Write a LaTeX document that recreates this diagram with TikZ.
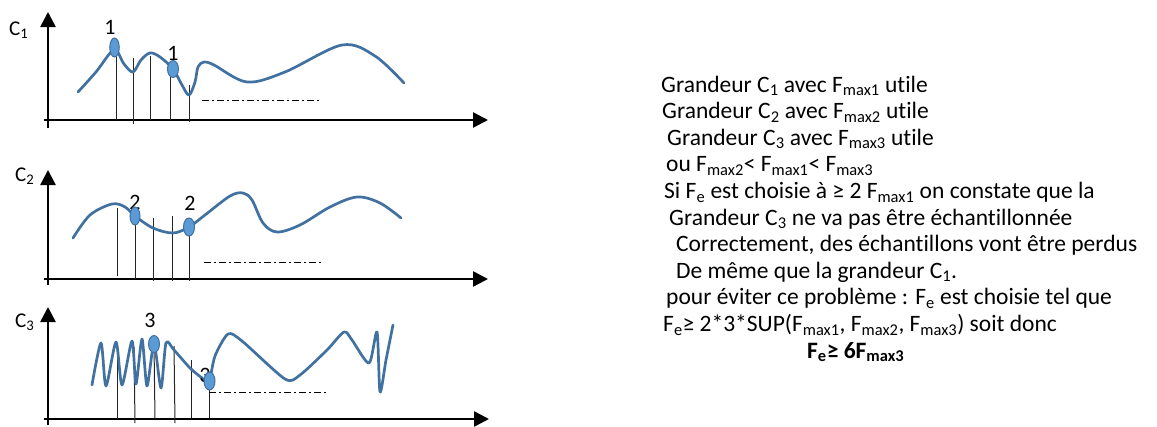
\documentclass[tikz,border=0pt]{standalone}
\usepackage{fontspec}
\setmainfont[Ligatures=NoCommon]{Carlito}
\usetikzlibrary{arrows.meta,shapes.geometric}
\definecolor{curvecol}{RGB}{65,113,160}
\definecolor{dotfill}{RGB}{91,155,213}
\newcommand\sbs[1]{\textsubscript{#1}}
\begin{document}
\begin{tikzpicture}[x=1pt,y=-1pt,
  axis/.style={line width=2.6pt,-{Triangle[length=15pt,width=15pt]}},
  curve/.style={draw=curvecol,line width=2.7pt,line cap=round,line join=round},
  dot/.style={ellipse,draw=curvecol,fill=dotfill,line width=1pt,minimum width=10pt,minimum height=18pt,inner sep=0pt},
  sample/.style={line width=1pt,draw=black!85},
  dashdot/.style={line width=1pt,dash pattern=on 7pt off 3pt on 2pt off 3pt},
  txt/.style={anchor=base west,inner sep=0pt,font=\fontsize{23.5}{28}\selectfont},
  lbl/.style={inner sep=0pt,font=\fontsize{22}{26}\selectfont},
  axlbl/.style={anchor=base west,inner sep=0pt,font=\fontsize{21}{25}\selectfont}]
\useasboundingbox (0,0) rectangle (1157,426);

% ---------- C1 ----------
\coordinate (o1y) at (48,128); \coordinate (t1y) at (48,12);
\coordinate (o1x) at (44,120); \coordinate (t1x) at (488,120);
\draw[axis] (o1y) -- (t1y);
\draw[axis] (o1x) -- (t1x);
\node[axlbl] (c1) at (9,35) {C\sbs{1}};
\draw[sample] (116,48) -- (116,120);
\draw[sample] (133,58) -- (133,124);
\draw[sample] (150,56) -- (150,120);
\draw[sample] (170,69) -- (170,120);
\draw[sample] (189,85) -- (189,122);
\draw[curve] plot[smooth,tension=0.55] coordinates {(78,92) (96,72) (114,50) (124,64) (133,72) (141,60) (150,53) (160,57) (173,69) (182,85) (189,95) (195,82) (198,67) (204,62) (214,65) (247,82) (285,72) (342,45) (375,56) (404,83)};
\draw[dashdot] (202,100) -- (320,100);
\node[lbl] (n1a) at (110,27) {1};
\node[lbl] (n1b) at (173,53) {1};
\node[dot,minimum width=9.5pt,minimum height=19pt] (d1a) at (114.5,47.5) {};
\node[dot,minimum width=11pt,minimum height=17pt] (d1b) at (173,69) {};

% ---------- C2 ----------
\coordinate (o2y) at (48,285); \coordinate (t2y) at (48,170);
\coordinate (o2x) at (44,279); \coordinate (t2x) at (488,279);
\draw[axis] (o2y) -- (t2y);
\draw[axis] (o2x) -- (t2x);
\node[axlbl] (c2) at (15,181) {C\sbs{2}};
\draw[sample] (117,208) -- (117,276);
\draw[sample] (135,216) -- (135,279);
\draw[sample] (153,218) -- (153,281);
\draw[sample] (172,216) -- (172,281);
\draw[sample] (189,227) -- (189,281);
\draw[curve] plot[smooth,tension=0.55] coordinates {(73,238) (90,215) (112,204) (125,207) (135,216) (153,228) (173,233) (189,227) (205,215) (230,196) (243,193) (252,200) (263,223) (277,232) (300,225) (330,207) (357,197) (380,203) (401,218)};
\draw[dashdot] (204,262) -- (322,262);
\node[lbl] (n2a) at (135,202) {2};
\node[lbl] (n2b) at (190,203) {2};
\node[dot] (d2a) at (135,216) {};
\node[dot,minimum width=11pt] (d2b) at (189,227) {};

% ---------- C3 ----------
\coordinate (o3y) at (48,425); \coordinate (t3y) at (48,307);
\coordinate (o3x) at (44,419); \coordinate (t3x) at (489,419);
\draw[axis] (o3y) -- (t3y);
\draw[axis] (o3x) -- (t3x);
\node[axlbl] (c3) at (15,327) {C\sbs{3}};
\draw[sample] (117,343) -- (117,419);
\draw[sample] (134,347) -- (135,423);
\draw[sample] (154,344) -- (155,419);
\draw[sample] (174,346) -- (175,423);
\draw[sample] (191,360) -- (191,418);
\draw[sample] (209,382) -- (209,418);
\draw[curve] plot[smooth,tension=0.45] coordinates {(92,385) (101,343) (106,386) (116,342) (122,385) (132,341) (136,384) (142,339) (147,386) (154,344) (161,388) (166,343) (174,350) (190,368) (202,378) (209,382) (215,356) (228,334) (242,341) (285,379) (300,375) (327,350) (344,332) (352,340) (369,363) (377,332) (380,392) (386,360) (393,325)};
\draw[dashdot] (209,392) -- (328,392);
\node[lbl] (n3a) at (150,320) {3};
\node[lbl] (n3b) at (205,375) {3};
\node[dot,minimum width=11pt,minimum height=17pt] (d3a) at (154,344) {};
\node[dot,minimum width=11pt] (d3b) at (209.5,381) {};

% ---------- text ----------
\node[txt] (l1) at (661,92) {Grandeur C\sbs{1} avec F\sbs{max1} utile};
\node[txt] (l2) at (662,118.6) {Grandeur C\sbs{2} avec F\sbs{max2} utile};
\node[txt] (l3) at (667,145.2) {Grandeur C\sbs{3} avec F\sbs{max3} utile};
\node[txt] (l4) at (666,171.8) {ou F\sbs{max2}< F\sbs{max1}< F\sbs{max3}};
\node[txt] (l5) at (664,198.4) {Si F\sbs{e} est choisie à ≥ 2 F\sbs{max1} on constate que la};
\node[txt] (l6) at (669,225) {Grandeur C\sbs{3} ne va pas être échantillonnée};
\node[txt] (l7) at (676,251.6) {Correctement, des échantillons vont être perdus};
\node[txt] (l8) at (676,278.2) {De même que la grandeur C\sbs{1}.};
\node[txt] (l9) at (666,304.8) {pour éviter ce problème : F\sbs{e} est choisie tel que};
\node[txt] (l10) at (663,331.4) {F\sbs{e}≥ 2*3*SUP(F\sbs{max1}, F\sbs{max2}, F\sbs{max3}) soit donc};
\node[txt,font=\fontsize{23.5}{28}\selectfont\bfseries] (l11) at (807,358) {F\sbs{e}≥ 6F\sbs{max3}};
\end{tikzpicture}
\end{document}
